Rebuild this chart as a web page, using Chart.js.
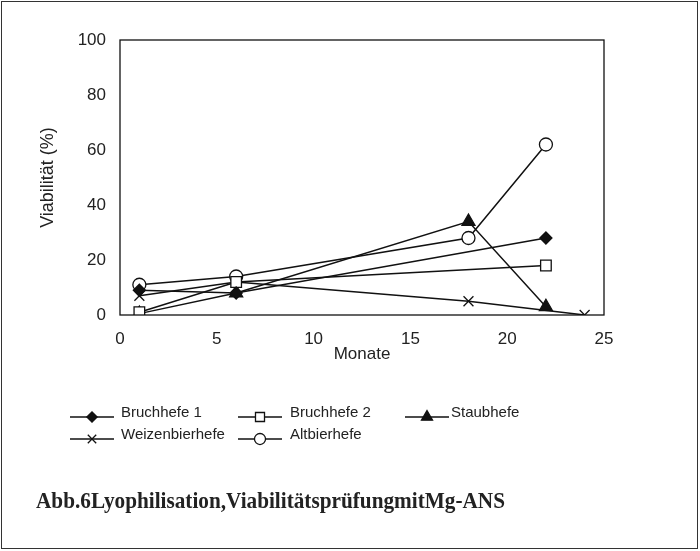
<!DOCTYPE html>
<html>
<head>
<meta charset="utf-8">
<script src="https://cdn.jsdelivr.net/npm/chart.js@4/dist/chart.umd.min.js"></script>
<style>
  html, body { margin: 0; padding: 0; background: #fff; }
  #wrap { width: 700px; height: 551px; position: relative; }
</style>
</head>
<body>
<div id="wrap"><canvas id="myChart" width="700" height="551"></canvas></div>
<script>
// series names (legend order)
var namen = ['Bruchhefe 1', 'Bruchhefe 2', 'Staubhefe', 'Weizenbierhefe', 'Altbierhefe'];

// months + viability (%) per series
var monate_b1 = [1, 6, 22];
var werte_b1  = [9, 8, 28];
var monate_b2 = [1, 6, 22];
var werte_b2  = [1, 12, 18];
var monate_st = [1, 6, 18, 22];
var werte_st  = [0.5, 8, 34, 3];
var monate_wz = [1, 6, 18, 24];
var werte_wz  = [7, 12, 5, 0];
var monate_ab = [1, 6, 18, 22];
var werte_ab  = [11, 14, 28, 62];

var xTicks = [0, 5, 10, 15, 20, 25];
var yTicks = [0, 20, 40, 60, 80, 100];

var titel = 'Abb.6Lyophilisation,ViabilitätsprüfungmitMg-ANS';

function punkte(xs, ys) {
    var out = [];
    for (var i = 0; i < xs.length; i++) {
        out.push({x: xs[i], y: ys[i]});
    }
    return out;
}

var stil = [
    {pointStyle: 'rectRot',  radius: 6,   fill: '#111'},
    {pointStyle: 'rect',     radius: 7.5, fill: '#fff'},
    {pointStyle: 'triangle', radius: 7.5, fill: '#111'},
    {pointStyle: 'crossRot', radius: 7,   fill: '#111'},
    {pointStyle: 'circle',   radius: 6.5, fill: '#fff'}
];
var daten = [
    punkte(monate_b1, werte_b1),
    punkte(monate_b2, werte_b2),
    punkte(monate_st, werte_st),
    punkte(monate_wz, werte_wz),
    punkte(monate_ab, werte_ab)
];

var datasets = [];
for (var i = 0; i < namen.length; i++) {
    datasets.push({
        label: namen[i],
        data: daten[i],
        borderColor: '#111',
        borderWidth: 1.5,
        pointStyle: stil[i].pointStyle,
        pointRadius: stil[i].radius,
        pointBackgroundColor: stil[i].fill,
        pointBorderColor: '#111',
        pointBorderWidth: 1.3,
        tension: 0,
        fill: false
    });
}

var schrift = '"Liberation Sans", Arial, sans-serif';

// legend layout: [lineStart, textX, y]
var legendePos = [
    [70, 121, 413],
    [238, 290, 413],
    [405, 451, 413],
    [70, 121, 435],
    [238, 290, 435]
];

var rahmen = {
    id: 'rahmen',
    afterDraw: function(chart) {
        var ctx = chart.ctx;
        var a = chart.chartArea;
        ctx.save();
        // plot box
        ctx.strokeStyle = '#111';
        ctx.lineWidth = 1.3;
        ctx.strokeRect(a.left, a.top, a.right - a.left, a.bottom - a.top);
        // outer frame
        ctx.strokeStyle = '#333';
        ctx.lineWidth = 1;
        ctx.strokeRect(1.5, 1.5, 696, 547);

        // legend
        ctx.font = '15px ' + schrift;
        ctx.textBaseline = 'middle';
        ctx.textAlign = 'left';
        for (var i = 0; i < datasets.length; i++) {
            var p = legendePos[i];
            var ly = p[2] + 4;
            ctx.strokeStyle = '#111';
            ctx.lineWidth = 1.5;
            ctx.beginPath();
            ctx.moveTo(p[0], ly);
            ctx.lineTo(p[0] + 44, ly);
            ctx.stroke();
            ctx.fillStyle = stil[i].fill;
            ctx.lineWidth = 1.3;
            Chart.helpers.drawPoint(ctx, {pointStyle: stil[i].pointStyle, radius: stil[i].radius * 0.85, rotation: 0, borderWidth: 1.3}, p[0] + 22, ly);
            ctx.fillStyle = '#222';
            ctx.fillText(datasets[i].label, p[1], p[2]);
        }

        // caption
        ctx.font = 'bold 24px "Liberation Serif", "Times New Roman", serif';
        var w = ctx.measureText(titel).width;
        ctx.translate(36, 502);
        ctx.scale(469 / w, 1);
        ctx.fillStyle = '#222';
        ctx.fillText(titel, 0, 0);
        ctx.restore();
    }
};

var ctx = document.getElementById('myChart').getContext('2d');
var grafik = new Chart(ctx, {
    type: 'line',
    data: { datasets: datasets },
    options: {
        responsive: false,
        animation: false,
        layout: { padding: { left: 0, top: 40, right: 96, bottom: 186 } },
        plugins: {
            legend: { display: false },
            tooltip: { enabled: false }
        },
        scales: {
            x: {
                type: 'linear',
                min: 0,
                max: 25,
                afterBuildTicks: function(s) { s.ticks = xTicks.map(function(v) { return {value: v}; }); },
                afterFit: function(s) { s.height = 50; },
                grid: { display: false },
                border: { display: false },
                ticks: { color: '#222', padding: 6, font: { size: 17, family: schrift } },
                title: { display: true, text: 'Monate', color: '#222', padding: 0, font: { size: 17, family: schrift } }
            },
            y: {
                min: 0,
                max: 100,
                afterBuildTicks: function(s) { s.ticks = yTicks.map(function(v) { return {value: v}; }); },
                afterFit: function(s) { s.width = 120; },
                grid: { display: false },
                border: { display: false },
                ticks: { color: '#222', padding: 6, font: { size: 17, family: schrift } },
                title: { display: true, text: 'Viabilität (%)', color: '#222', padding: { top: 37, bottom: 0 }, font: { size: 18, family: schrift } }
            }
        }
    },
    plugins: [rahmen]
});
</script>
</body>
</html>
